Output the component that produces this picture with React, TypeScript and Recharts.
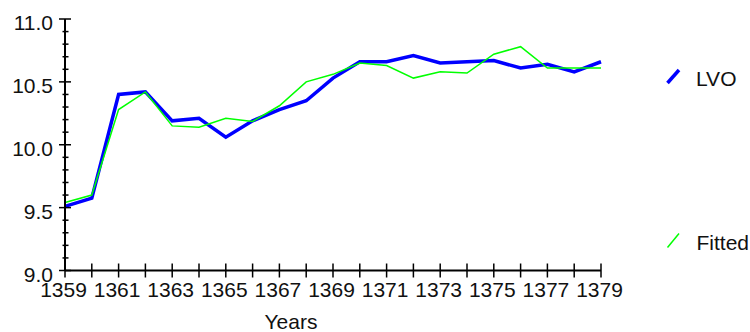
import React from 'react';
import { LineChart, Line, XAxis, YAxis } from 'recharts';

const years = [1359, 1360, 1361, 1362, 1363, 1364, 1365, 1366, 1367, 1368, 1369, 1370, 1371, 1372, 1373, 1374, 1375, 1376, 1377, 1378, 1379];
const lvo = [9.51, 9.575, 10.4, 10.42, 10.19, 10.21, 10.06, 10.19, 10.28, 10.35, 10.53, 10.66, 10.66, 10.71, 10.65, 10.66, 10.67, 10.61, 10.64, 10.58, 10.66];
const fitted = [9.54, 9.6, 10.28, 10.42, 10.15, 10.14, 10.21, 10.185, 10.31, 10.5, 10.56, 10.65, 10.63, 10.53, 10.58, 10.57, 10.72, 10.78, 10.61, 10.61, 10.61];
const yTicks = [9.0, 9.1, 9.2, 9.3, 9.4, 9.5, 9.6, 9.7, 9.8, 9.9, 10.0, 10.1, 10.2, 10.3, 10.4, 10.5, 10.6, 10.7, 10.8, 10.9, 11.0];
const xLabelYears = [1359, 1361, 1363, 1365, 1367, 1369, 1371, 1373, 1375, 1377, 1379];
const seriesNames = ['LVO', 'Fitted'];
const seriesColors = ['#0000FF', '#00FF00'];

const data = years.map((y, i) => ({ year: y, LVO: lvo[i], Fitted: fitted[i] }));

const FONT = 'Arial, "Liberation Sans", sans-serif';
const FS = 21;

const XTick = (props: any) => {
  const { x, y, payload } = props;
  const showLabel = xLabelYears.includes(payload.value);
  return (
    <g>
      <line x1={x} x2={x} y1={y - 7} y2={y + 7} stroke="#000" strokeWidth={1.5} />
      {showLabel && (
        <text x={x - 1.5} y={y + 26.5} textAnchor="middle" fontSize={FS} fontFamily={FONT} fill="#111">
          {payload.value}
        </text>
      )}
    </g>
  );
};

const YTick = (props: any) => {
  const { x, y, payload } = props;
  const v = payload.value as number;
  const major = Math.abs(v * 2 - Math.round(v * 2)) < 1e-6;
  return (
    <g>
      <line x1={major ? x - 6 : x - 2.5} x2={major ? x + 6 : x + 3.5} y1={y} y2={y} stroke="#000" strokeWidth={1.5} />
      {major && (
        <text x={x - 12} y={y + 11} textAnchor="end" fontSize={FS} fontFamily={FONT} fill="#111">
          {v.toFixed(1)}
        </text>
      )}
    </g>
  );
};

const YearsLabel = (props: any) => {
  const { viewBox } = props;
  const cx = viewBox.x + viewBox.width / 2 - 42;
  return (
    <text x={cx} y={329} textAnchor="middle" fontSize={FS} fontFamily={FONT} fill="#111">
      Years
    </text>
  );
};

export default function App() {
  return (
    <div style={{ position: 'absolute', left: 0, top: 0, width: 750, height: 332, background: '#fff' }}>
      <LineChart width={750} height={332} data={data} margin={{ top: 19, right: 149, bottom: 21.5, left: 0 }}>
        <XAxis
          dataKey="year"
          type="number"
          domain={[1359, 1379]}
          ticks={years}
          interval={0}
          tickLine={false}
          tickSize={0}
          tickMargin={0}
          height={40}
          axisLine={{ stroke: '#000', strokeWidth: 2 }}
          tick={<XTick />}
          label={<YearsLabel />}
        />
        <YAxis
          type="number"
          domain={[9, 11]}
          ticks={yTicks}
          interval={0}
          width={65}
          tickLine={false}
          tickSize={0}
          tickMargin={0}
          axisLine={{ stroke: '#000', strokeWidth: 2 }}
          tick={<YTick />}
        />
        <Line type="linear" dataKey="LVO" stroke={seriesColors[0]} strokeWidth={3.5} dot={false} isAnimationActive={false} />
        <Line type="linear" dataKey="Fitted" stroke={seriesColors[1]} strokeWidth={1.5} dot={false} isAnimationActive={false} />
      </LineChart>
      <svg width={750} height={332} style={{ position: 'absolute', left: 0, top: 0, pointerEvents: 'none' }}>
        <line x1={667.5} y1={83} x2={679} y2={70} stroke={seriesColors[0]} strokeWidth={3.5} />
        <text x={696} y={86} fontSize={FS} fontFamily={FONT} fill="#111">{seriesNames[0]}</text>
        <line x1={667.5} y1={247.5} x2={679} y2={233.5} stroke={seriesColors[1]} strokeWidth={1.5} />
        <text x={696.5} y={250} fontSize={FS} fontFamily={FONT} fill="#111">{seriesNames[1]}</text>
      </svg>
    </div>
  );
}
